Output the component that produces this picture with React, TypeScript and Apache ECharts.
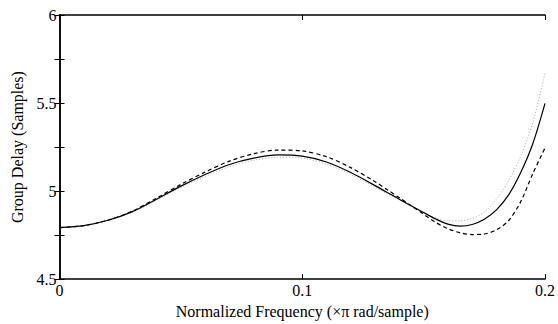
import React, { useEffect, useRef } from "react";
import * as echarts from "echarts";

const freq = [0, 0.01, 0.02, 0.03, 0.04, 0.05, 0.06, 0.07, 0.08, 0.09, 0.1, 0.11, 0.12, 0.13, 0.135, 0.14, 0.145, 0.15, 0.155, 0.16, 0.165, 0.17, 0.175, 0.18, 0.185, 0.19, 0.195, 0.2];
const solid = [4.792, 4.804, 4.834, 4.883, 4.954, 5.028, 5.094, 5.151, 5.187, 5.205, 5.198, 5.165, 5.105, 5.031, 4.992, 4.954, 4.915, 4.878, 4.841, 4.812, 4.801, 4.81, 4.84, 4.893, 4.978, 5.105, 5.27, 5.498];
const dashed = [4.792, 4.804, 4.835, 4.886, 4.96, 5.038, 5.108, 5.17, 5.212, 5.233, 5.228, 5.195, 5.133, 5.053, 5.008, 4.962, 4.916, 4.868, 4.822, 4.786, 4.763, 4.753, 4.756, 4.78, 4.832, 4.94, 5.1, 5.245];
const dotted = [4.792, 4.803, 4.832, 4.879, 4.948, 5.02, 5.083, 5.138, 5.175, 5.192, 5.187, 5.153, 5.094, 5.022, 4.985, 4.95, 4.912, 4.877, 4.847, 4.831, 4.831, 4.845, 4.88, 4.955, 5.06, 5.198, 5.39, 5.67];

const yLabels = ["4.5", "5", "5.5", "6"];
const xLabels = ["0", "0.1", "0.2"];

const font = "Liberation Serif";

export default function App() {
  const ref = useRef<HTMLDivElement>(null);
  useEffect(() => {
    if (!ref.current) return;
    const chart = echarts.init(ref.current, null, { renderer: "svg" });
    const pairs = (ys: number[]) => freq.map((f, i) => [f, ys[i]]);
    const yFmt = (v: number) => {
      const s = String(Math.round(v * 100) / 100);
      return yLabels.includes(s) ? s : "";
    };
    const xFmt = (v: number) => {
      const s = String(Math.round(v * 100) / 100);
      return xLabels.includes(s) ? s : "";
    };
    const axisLine = { show: true, lineStyle: { color: "#000", width: 1.5 } };
    const tick = { show: true, inside: true, length: 5, lineStyle: { color: "#000", width: 1 } };
    chart.setOption({
      animation: false,
      backgroundColor: "#fff",
      grid: { left: 59.5, right: 11, top: 15, bottom: 35, containLabel: false },
      xAxis: [
        {
          type: "value",
          min: 0,
          max: 0.2,
          interval: 0.1,
          position: "bottom",
          axisLine,
          axisTick: tick,
          axisLabel: { color: "#000", fontFamily: font, fontSize: 16, margin: 3, formatter: xFmt },
          splitLine: { show: false },
          name: "Normalized Frequency (×π rad/sample)",
          nameLocation: "middle",
          nameGap: 19,
          nameTextStyle: { color: "#000", fontFamily: font, fontSize: 16 },
        },
        {
          type: "value",
          min: 0,
          max: 0.2,
          interval: 0.1,
          position: "top",
          axisLine,
          axisTick: tick,
          axisLabel: { show: false },
          splitLine: { show: false },
        },
      ],
      yAxis: [
        {
          type: "value",
          min: 4.5,
          max: 6,
          interval: 0.25,
          position: "left",
          axisLine,
          axisTick: tick,
          axisLabel: { color: "#000", fontFamily: font, fontSize: 16, margin: 3, formatter: yFmt },
          splitLine: { show: false },
          name: "Group Delay (Samples)",
          nameLocation: "middle",
          nameGap: 22,
          nameRotate: 90,
          nameTextStyle: { color: "#000", fontFamily: font, fontSize: 16 },
        },
        {
          type: "value",
          min: 4.5,
          max: 6,
          interval: 0.25,
          position: "right",
          axisLine,
          axisTick: tick,
          axisLabel: { show: false },
          splitLine: { show: false },
        },
      ],
      series: [
        {
          type: "line",
          data: pairs(dotted),
          smooth: 0.3,
          showSymbol: false,
          lineStyle: { color: "#aaa", width: 1, type: [1, 2] },
          clip: true,
        },
        {
          type: "line",
          data: pairs(dashed),
          smooth: 0.3,
          showSymbol: false,
          lineStyle: { color: "#000", width: 1.2, type: [4, 3] },
          clip: true,
        },
        {
          type: "line",
          data: pairs(solid),
          smooth: 0.3,
          showSymbol: false,
          lineStyle: { color: "#000", width: 1.2, type: "solid" },
          clip: true,
        },
      ],
    });
    return () => chart.dispose();
  }, []);
  return <div ref={ref} style={{ width: 558, height: 324, position: "absolute", left: 0, top: 0 }} />;
}
